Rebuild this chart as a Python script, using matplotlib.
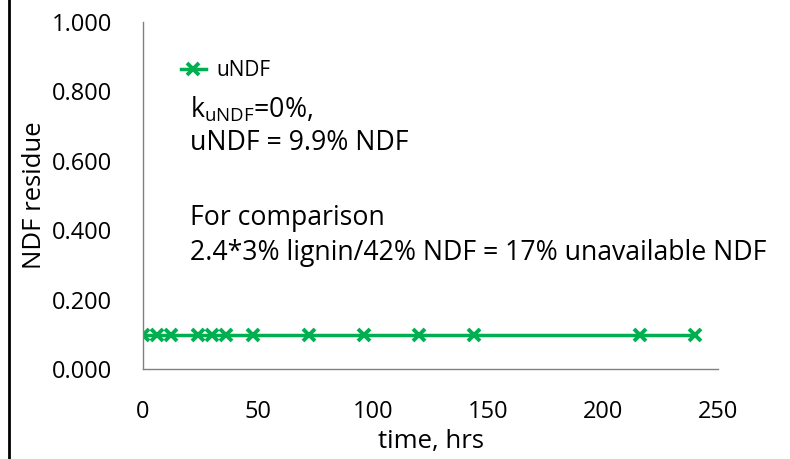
import matplotlib.pyplot as plt
from matplotlib.lines import Line2D

# time points (hrs) and NDF residue
time_hrs = [0, 6, 12, 24, 30, 36, 48, 72, 96, 120, 144, 216, 240]
undf = [0.099, 0.099, 0.099, 0.099, 0.099, 0.099, 0.099, 0.099, 0.099, 0.099, 0.099, 0.099, 0.099]
x_ticks = [0, 50, 100, 150, 200, 250]
y_ticks = [0.0, 0.2, 0.4, 0.6, 0.8, 1.0]

green = '#00B050'
plt.rcParams['font.family'] = ['Open Sans', 'DejaVu Sans']

fig = plt.figure(figsize=(7.9, 4.59), dpi=100)
ax = fig.add_axes([143 / 790, (459 - 369) / 459, (718 - 143) / 790, (369 - 22) / 459])

ax.plot(time_hrs, undf, color=green, lw=2.5, marker='x', ms=8, mew=2.8, label='uNDF')

ax.set_xlim(0, 250)
ax.set_ylim(0, 1.0)
ax.set_xticks(x_ticks)
ax.set_yticks(y_ticks)
ax.set_yticklabels(['%.3f' % v for v in y_ticks])
ax.tick_params(length=0, labelsize=17, pad=22)
for s in ['top', 'right']:
    ax.spines[s].set_visible(False)
for s in ['left', 'bottom']:
    ax.spines[s].set_color('#808080')
    ax.spines[s].set_linewidth(1)

ax.set_xlabel('time, hrs', fontsize=18.5, labelpad=4)
ax.set_ylabel('NDF residue', fontsize=18.5, labelpad=4)

leg = ax.legend(loc='upper left', bbox_to_anchor=(0.033, 0.945), frameon=False,
                fontsize=15, handlelength=1.2, handletextpad=0.5)

txt = dict(transform=fig.transFigure, fontsize=19.2, va='center', ha='left')
fig.text(190 / 790, 1 - 110 / 459, r'k$_{\mathregular{uNDF}}$=0%,', **txt)
fig.text(190 / 790, 1 - 143 / 459, 'uNDF = 9.9% NDF', **txt)
fig.text(190 / 790, 1 - 218 / 459, 'For comparison', **txt)
fig.text(190 / 790, 1 - 253 / 459, '2.4*3% lignin/42% NDF = 17% unavailable NDF', **txt)

# left border line of the original frame
fig.add_artist(Line2D([9 / 790, 9 / 790], [0, 1], transform=fig.transFigure, color='black', lw=2))

fig.savefig('out.png', dpi=100)
